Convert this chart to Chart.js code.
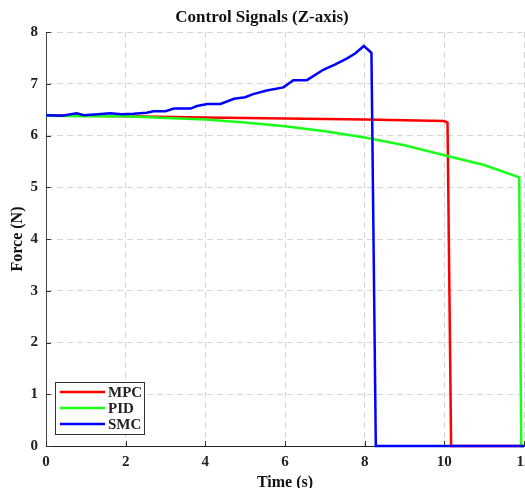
<!DOCTYPE html>
<html>
<head>
<meta charset="utf-8">
<script src="https://cdn.jsdelivr.net/npm/chart.js@4.4.1/dist/chart.umd.min.js"></script>
<style>
  body, html { margin:0; padding:0; background:#fff; overflow:hidden; }
  #wrap { width:545px; height:492px; position:relative; }
</style>
</head>
<body>
<div id="wrap"><canvas id="forceChart"></canvas></div>
<script>
// data
const timeMPC  = [0, 2, 4, 6, 8, 10, 10.08, 10.17, 12];
const forceMPC = [6.39, 6.37, 6.35, 6.33, 6.31, 6.28, 6.25, 0, 0];

const timePID  = [0, 1, 2, 3, 4, 5, 6, 7, 8, 9, 10, 11, 11.88, 11.93, 12];
const forcePID = [6.38, 6.37, 6.37, 6.34, 6.31, 6.25, 6.18, 6.08, 5.96, 5.81, 5.62, 5.43, 5.19, 0, 0];

const timeSMC  = [0, 0.4, 0.77, 0.95, 1.3, 1.61, 1.9, 2.2, 2.53, 2.7, 3.0, 3.21, 3.63, 3.79, 4.05, 4.38, 4.72, 5.0, 5.2, 5.54, 5.96, 6.21, 6.55, 6.96, 7.25, 7.56, 7.77, 7.98, 8.17, 8.28, 12];
const forceSMC = [6.39, 6.38, 6.43, 6.39, 6.41, 6.43, 6.41, 6.42, 6.44, 6.47, 6.47, 6.52, 6.52, 6.57, 6.61, 6.61, 6.71, 6.74, 6.80, 6.87, 6.93, 7.07, 7.07, 7.27, 7.37, 7.49, 7.59, 7.73, 7.60, 0, 0];

const xTicks = [0, 2, 4, 6, 8, 10, 12];
const yTicks = [0, 1, 2, 3, 4, 5, 6, 7, 8];

const FONT = '"Liberation Serif", "Times New Roman", serif';

function pts(xs, ys){ return xs.map((x, i) => ({ x: x, y: ys[i] })); }

// legend box in the lower left, MATLAB style
const boxLegend = {
  id: 'boxLegend',
  afterDatasetsDraw(chart){
    const ctx = chart.ctx, a = chart.chartArea;
    const x0 = a.left + 9, y0 = a.bottom - 64, w = 89, h = 52;
    ctx.save();
    ctx.fillStyle = '#fff';
    ctx.fillRect(x0, y0, w, h);
    ctx.strokeStyle = '#333';
    ctx.lineWidth = 1;
    ctx.strokeRect(x0 + 0.5, y0 + 0.5, w, h);
    ctx.font = 'bold 15px ' + FONT;
    ctx.textBaseline = 'middle';
    [0, 1, 2].forEach((i, k) => {
      const ds = chart.data.datasets[i];
      const yy = y0 + 10 + k * 16;
      ctx.strokeStyle = ds.borderColor;
      ctx.lineWidth = 2.5;
      ctx.beginPath(); ctx.moveTo(x0 + 5, yy); ctx.lineTo(x0 + 50, yy); ctx.stroke();
      ctx.fillStyle = '#222';
      ctx.fillText(ds.label, x0 + 53, yy + 1);
    });
    ctx.restore();
  }
};

// small inward tick marks
const innerTicks = {
  id: 'innerTicks',
  afterDraw(chart){
    const ctx = chart.ctx, a = chart.chartArea;
    const xs = chart.scales.x, ys = chart.scales.y;
    ctx.save();
    ctx.strokeStyle = '#333';
    ctx.lineWidth = 1;
    ctx.beginPath();
    xTicks.forEach(v => { const p = Math.round(xs.getPixelForValue(v)) + 0.5; ctx.moveTo(p, a.bottom); ctx.lineTo(p, a.bottom - 5); });
    yTicks.forEach(v => { const p = Math.round(ys.getPixelForValue(v)) + 0.5; ctx.moveTo(a.left, p); ctx.lineTo(a.left + 5, p); });
    ctx.stroke();
    ctx.restore();
  }
};

const ctx = document.getElementById('forceChart');
new Chart(ctx, {
  type: 'line',
  data: {
    datasets: [
      { label: 'MPC', data: pts(timeMPC, forceMPC), borderColor: '#ff0000', order: 2 },
      { label: 'PID', data: pts(timePID, forcePID), borderColor: '#1aff1a', order: 1 },
      { label: 'SMC', data: pts(timeSMC, forceSMC), borderColor: '#0000ff', order: 0 }
    ]
  },
  options: {
    responsive: true,
    maintainAspectRatio: false,
    animation: false,
    layout: { padding: { left: 0, right: 21, top: 0, bottom: 0 } },
    elements: {
      line: { borderWidth: 2.5, tension: 0, fill: false },
      point: { radius: 0 }
    },
    datasets: { line: { clip: 6 } },
    plugins: {
      legend: { display: false },
      tooltip: { enabled: false },
      title: {
        display: true,
        text: 'Control Signals (Z-axis)',
        color: '#111',
        font: { family: FONT, size: 17, weight: 'bold' },
        padding: { top: 7, bottom: 4.6 }
      }
    },
    scales: {
      x: {
        type: 'linear',
        min: 0, max: 12,
        afterFit: s => { s.height = 46; },
        afterBuildTicks: s => { s.ticks = xTicks.map(v => ({ value: v })); },
        ticks: { color: '#222', padding: 7, font: { family: FONT, size: 15, weight: 'bold' } },
        grid: { color: '#d6d6d6', drawTicks: false, lineWidth: 1 },
        border: { display: true, color: '#222', width: 1, dash: [6, 4] },
        title: { display: true, text: 'Time (s)', color: '#111', padding: { top: 0, bottom: 0 }, font: { family: FONT, size: 16, weight: 'bold' } }
      },
      y: {
        min: 0, max: 8,
        afterFit: s => { s.width = 46; },
        afterBuildTicks: s => { s.ticks = yTicks.map(v => ({ value: v })); },
        ticks: { color: '#222', padding: 8, font: { family: FONT, size: 15, weight: 'bold' } },
        grid: { color: '#d6d6d6', drawTicks: false, lineWidth: 1 },
        border: { display: true, color: '#444', width: 1, dash: [6, 4] },
        title: { display: true, text: 'Force (N)', color: '#111', padding: { top: 8, bottom: 0 }, font: { family: FONT, size: 16, weight: 'bold' } }
      }
    }
  },
  plugins: [boxLegend, innerTicks]
});
</script>
</body>
</html>
